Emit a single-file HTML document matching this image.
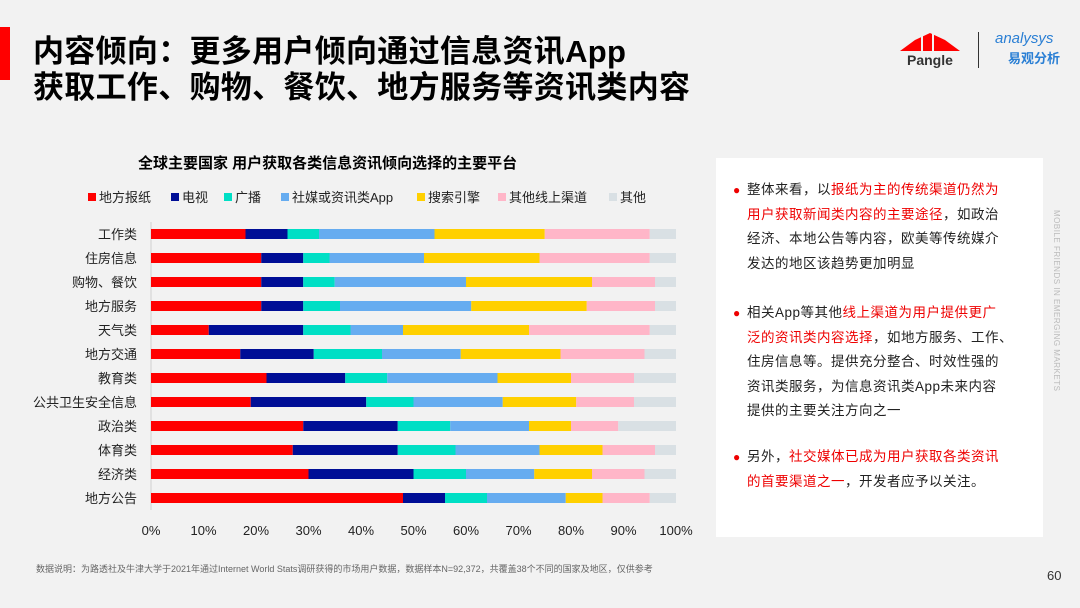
<!DOCTYPE html>
<html><head><meta charset="utf-8"><style>
body{margin:0;width:1080px;height:608px;background:#f2f2f2;font-family:"Liberation Sans","Noto Sans CJK SC",sans-serif;position:relative;overflow:hidden}
.abs{position:absolute}
.title{left:33px;font-size:31px;letter-spacing:0.3px;font-weight:bold;color:#000;line-height:36px;white-space:nowrap}
.box{left:716px;top:158px;width:327px;height:379px;background:#fff}
.p{position:absolute;left:31px;width:263px;font-size:13.5px;letter-spacing:0.5px;line-height:24.5px;color:#222}
.p .b{position:absolute;left:-14px;color:#e00;font-size:12px}
.r{color:#e00}
</style></head><body>
<div class="abs" style="left:0;top:27px;width:10px;height:53px;background:#f00"></div>
<div class="abs title" style="top:34px">内容倾向：更多用户倾向通过信息资讯App</div>
<div class="abs title" style="top:70px">获取工作、购物、餐饮、地方服务等资讯类内容</div>
<div class="abs" style="left:900px;top:32px;width:60px;height:40px">
<svg width="60" height="40"><polygon points="0,19 15,8 30,1 45,8 60,19" fill="#f00"/><line x1="22" y1="4" x2="22" y2="19" stroke="#f2f2f2" stroke-width="2"/><line x1="33" y1="2" x2="33" y2="19" stroke="#f2f2f2" stroke-width="2"/><text x="7" y="33" font-size="14" font-weight="bold" fill="#333" font-family="Liberation Sans">Pangle</text></svg></div>
<div class="abs" style="left:978px;top:32px;width:1px;height:36px;background:#333"></div>
<div class="abs" style="left:995px;top:30px;color:#2a7fd4;font-size:15px;font-style:italic">analysys</div>
<div class="abs" style="left:1008px;top:48px;color:#2a7fd4;font-size:13px;font-weight:bold">易观分析</div>
<div class="abs" style="left:138px;top:152px;font-size:15px;font-weight:bold">全球主要国家 用户获取各类信息资讯倾向选择的主要平台</div>
<svg class="abs" style="left:0;top:0" width="716" height="560" id="chart"></svg>
<div class="abs box">
<div class="p" style="top:20px"><span class="b">●</span>整体来看，以<span class="r">报纸为主的传统渠道仍然为用户获取新闻类内容的主要途径</span>，如政治经济、本地公告等内容，欧美等传统媒介发达的地区该趋势更加明显</div>
<div class="p" style="top:143px;width:290px;white-space:nowrap"><span class="b">●</span>相关App等其他<span class="r">线上渠道为用户提供更广<br>泛的资讯类内容选择</span>，如地方服务、工作、<br>住房信息等。提供充分整合、时效性强的<br>资讯类服务，为信息资讯类App未来内容<br>提供的主要关注方向之一</div>
<div class="p" style="top:287px"><span class="b">●</span>另外，<span class="r">社交媒体已成为用户获取各类资讯的首要渠道之一</span>，开发者应予以关注。</div>
</div>
<div class="abs" style="left:1052px;top:210px;writing-mode:vertical-rl;font-size:8px;color:#bbb;letter-spacing:0.5px">MOBILE FRIENDS IN EMERGING MARKETS</div>
<div class="abs" style="left:36px;top:562px;font-size:9px;color:#666">数据说明：为路透社及牛津大学于2021年通过Internet World Stats调研获得的市场用户数据，数据样本N=92,372，共覆盖38个不同的国家及地区，仅供参考</div>
<div class="abs" style="left:1047px;top:568px;font-size:13px;color:#333">60</div>
<script>
const categories=["工作类","住房信息","购物、餐饮","地方服务","天气类","地方交通","教育类","公共卫生安全信息","政治类","体育类","经济类","地方公告"];
const seriesNames=["地方报纸","电视","广播","社媒或资讯类App","搜索引擎","其他线上渠道","其他"];
const newspaper=[18,21,21,21,11,17,22,19,29,27,30,48];
const tv=[8,8,8,8,18,14,15,22,18,20,20,8];
const radio=[6,5,6,7,9,13,8,9,10,11,10,8];
const socialApp=[22,18,25,25,10,15,21,17,15,16,13,15];
const search=[21,22,24,22,24,19,14,14,8,12,11,7];
const otherOnline=[20,21,12,13,23,16,12,11,9,10,10,9];
const other=[5,5,4,4,5,6,8,8,11,4,6,5];
const tickLabels=["0%","10%","20%","30%","40%","50%","60%","70%","80%","90%","100%"];
const colors=["#ff0000","#000e96","#00dfc5","#66acf0","#ffd000","#ffb6c8","#d9e0e4"];
const series=[newspaper,tv,radio,socialApp,search,otherOnline,other];
const NS="http://www.w3.org/2000/svg";
const svg=document.getElementById('chart');
const x0=151,x1=676,y0=234,step=24,bh=10;
const xs=v=>x0+(x1-x0)*v/100;
const ys=i=>y0+i*step;
function mk(t,a){const e=document.createElementNS(NS,t);for(const k in a)e.setAttribute(k,a[k]);svg.appendChild(e);return e;}
const ax=mk('line',{x1:x0,x2:x0,y1:222,y2:510,stroke:'#d0d0d0','stroke-width':1});


categories.forEach((c,i)=>{
  let acc=0;
  const tl=mk('text',{x:137,y:ys(i)+5,'text-anchor':'end','font-size':13,fill:'#222'});
  tl.textContent=c;
  
  
  series.forEach((s,j)=>{
    const r=mk('rect',{x:xs(acc),y:ys(i)-bh/2,width:xs(acc+s[i])-xs(acc),height:bh,fill:colors[j]});
    
    
    acc+=s[i];
  });
});
tickLabels.forEach((t,i)=>{
  const e=mk('text',{x:xs(i*10),y:535,'text-anchor':'middle','font-size':13,fill:'#222'});
  e.textContent=t;
  
  
});
const lx=[88,171,224,281,417,498,609];
seriesNames.forEach((n,j)=>{
  const r=mk('rect',{x:lx[j],y:193,width:8,height:8,fill:colors[j]});
  
  
  const t=mk('text',{x:lx[j]+11,y:202,'font-size':13,fill:'#222'});
  t.textContent=n;
  
  
});
</script>
</body></html>
